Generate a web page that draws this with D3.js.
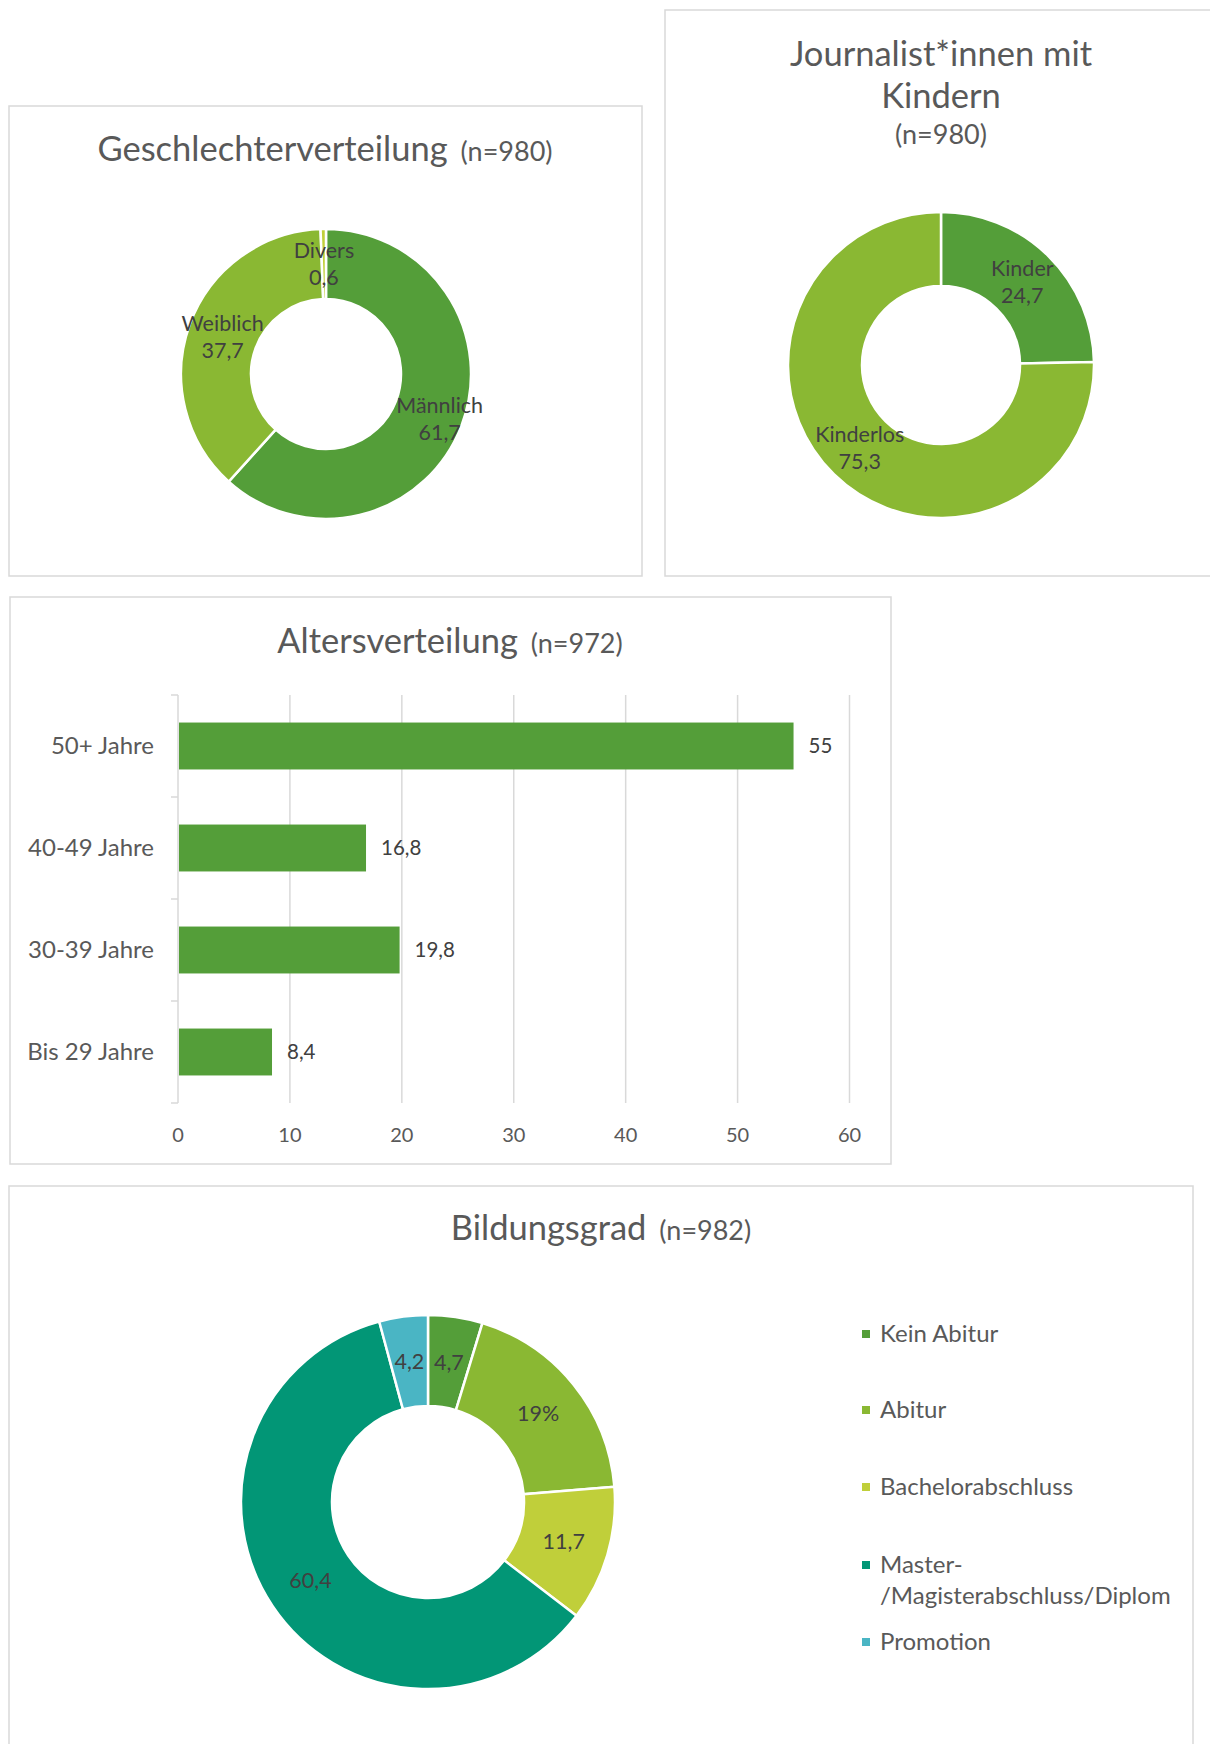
<!DOCTYPE html>
<html>
<head>
<meta charset="utf-8">
<script src="https://cdn.jsdelivr.net/npm/d3@7"></script>
<style>
  body { margin: 0; background: #fff; }
  svg text { font-family: Lato, "Open Sans", sans-serif; }
</style>
</head>
<body>
<svg id="chart" width="1210" height="1744"></svg>
<script>
// Chart data
const genderLabels = ["Männlich", "Weiblich", "Divers"];
const genderValues = [61.7, 37.7, 0.6];

const childLabels = ["Kinder", "Kinderlos"];
const childValues = [24.7, 75.3];

const ageLabels = ["50+ Jahre", "40-49 Jahre", "30-39 Jahre", "Bis 29 Jahre"];
const ageValues = [55, 16.8, 19.8, 8.4];
const ageTicks = [0, 10, 20, 30, 40, 50, 60];

const eduLabels = ["Kein Abitur", "Abitur", "Bachelorabschluss", "Master-/Magisterabschluss/Diplom", "Promotion"];
const eduValues = [4.7, 19, 11.7, 60.4, 4.2];
const eduValueText = ["4,7", "19%", "11,7", "60,4", "4,2"];

// Office "Green" theme colours
const palette = ["#549E39", "#8AB833", "#C0CF3A", "#029676", "#4AB5C4"];
const titleColor = "#595959";
const labelColor = "#404040";
const frameColor = "#d9d9d9";

const fmt = v => String(v).replace(".", ",");

const svg = d3.select("#chart");
svg.append("rect").attr("width", 1210).attr("height", 1744).attr("fill", "#fff");

function frame(x, y, w, h) {
    svg.append("rect")
        .attr("x", x).attr("y", y).attr("width", w).attr("height", h)
        .attr("fill", "none").attr("stroke", frameColor).attr("stroke-width", 1.5);
}

function title(x, y, main, sub) {
    const t = svg.append("text")
        .attr("x", x).attr("y", y)
        .attr("text-anchor", "middle")
        .attr("fill", titleColor)
        .attr("font-size", 34.5);
    t.append("tspan").text(main);
    if (sub) t.append("tspan").attr("dx", 6).attr("font-size", 27).text(" " + sub);
    return t;
}

// small nudges so labels sit where Excel's "best fit" puts them
function donut(cx, cy, outerR, innerR, values, colors, labelLines, nudge) {
    const g = svg.append("g").attr("transform", `translate(${cx},${cy})`);
    const pie = d3.pie().sort(null).value(d => d)(values);
    const arc = d3.arc().innerRadius(innerR).outerRadius(outerR);

    g.selectAll("path.slice")
        .data(pie)
        .join("path")
        .attr("class", "slice")
        .attr("d", arc)
        .attr("fill", (d, i) => colors[i])
        .attr("stroke", "#fff")
        .attr("stroke-width", 2.5);

    const lbl = g.selectAll("text.dl")
        .data(pie)
        .join("text")
        .attr("class", "dl")
        .attr("transform", (d, i) => {
            const c = arc.centroid(d);
            const n = (nudge && nudge[i]) || [0, 0];
            return `translate(${c[0] + n[0]},${c[1] + n[1]})`;
        })
        .attr("text-anchor", "middle")
        .attr("fill", labelColor)
        .attr("font-size", 21.5);

    lbl.each(function(d, i) {
        const lines = labelLines(d, i);
        const sel = d3.select(this);
        const lh = 27;
        lines.forEach((line, k) => {
            sel.append("tspan")
                .attr("x", 0)
                .attr("y", (k - (lines.length - 1) / 2) * lh)
                .attr("dy", "0.35em")
                .text(line);
        });
    });
}

// --- Geschlechterverteilung
frame(9, 106, 633, 470);
title(325, 161, "Geschlechterverteilung", "(n=980)");
donut(326, 374, 145, 75, genderValues, palette,
    (d, i) => [genderLabels[i], fmt(genderValues[i])], [[11, 5], [0, 1], [0, 0]]);

// --- Journalist*innen mit Kindern
frame(665, 10, 560, 566);
svg.append("text").attr("x", 941).attr("y", 66).attr("text-anchor", "middle")
    .attr("fill", titleColor).attr("font-size", 34.5).text("Journalist*innen mit");
svg.append("text").attr("x", 941).attr("y", 108).attr("text-anchor", "middle")
    .attr("fill", titleColor).attr("font-size", 34.5).text("Kindern");
svg.append("text").attr("x", 941).attr("y", 144).attr("text-anchor", "middle")
    .attr("fill", titleColor).attr("font-size", 27).text("(n=980)");
donut(941, 365, 153, 79, childValues, palette,
    (d, i) => [childLabels[i], fmt(childValues[i])]);

// --- Altersverteilung
frame(10, 597, 881, 567);
title(450, 653, "Altersverteilung", "(n=972)");

const x = d3.scaleLinear().domain([0, 60]).range([178, 849.5]);
const y = d3.scaleBand().domain(ageLabels).range([695, 1103])
    .paddingInner(0.54).paddingOuter(0.27);
const step = y.step();

const bar = svg.append("g");
bar.selectAll("line.grid")
    .data(ageTicks.slice(1))
    .join("line")
    .attr("x1", d => x(d)).attr("x2", d => x(d))
    .attr("y1", 695).attr("y2", 1103)
    .attr("stroke", frameColor).attr("stroke-width", 1.5);

// category axis with tick marks between bands
bar.append("line")
    .attr("x1", x(0)).attr("x2", x(0)).attr("y1", 695).attr("y2", 1103)
    .attr("stroke", frameColor).attr("stroke-width", 1.5);
bar.selectAll("line.ytick")
    .data(d3.range(ageLabels.length + 1))
    .join("line")
    .attr("x1", x(0) - 7).attr("x2", x(0))
    .attr("y1", i => 695 + i * step).attr("y2", i => 695 + i * step)
    .attr("stroke", frameColor).attr("stroke-width", 1.5);

bar.selectAll("rect.bar")
    .data(ageValues)
    .join("rect")
    .attr("x", x(0) + 1)
    .attr("y", (d, i) => y(ageLabels[i]))
    .attr("width", d => x(d) - x(0) - 1)
    .attr("height", y.bandwidth())
    .attr("fill", palette[0]);

bar.selectAll("text.val")
    .data(ageValues)
    .join("text")
    .attr("x", d => x(d) + 15)
    .attr("y", (d, i) => y(ageLabels[i]) + y.bandwidth() / 2)
    .attr("dy", "0.35em")
    .attr("fill", labelColor)
    .attr("font-size", 20.5)
    .text(d => fmt(d));

bar.selectAll("text.cat")
    .data(ageLabels)
    .join("text")
    .attr("x", 154)
    .attr("y", d => y(d) + y.bandwidth() / 2)
    .attr("dy", "0.35em")
    .attr("text-anchor", "end")
    .attr("fill", titleColor)
    .attr("font-size", 24)
    .text(d => d);

bar.selectAll("text.tick")
    .data(ageTicks)
    .join("text")
    .attr("x", d => x(d))
    .attr("y", 1135)
    .attr("dy", "0.35em")
    .attr("text-anchor", "middle")
    .attr("fill", titleColor)
    .attr("font-size", 20)
    .text(d => d);

// --- Bildungsgrad
frame(9, 1186, 1184, 600);
title(601, 1240, "Bildungsgrad", "(n=982)");
donut(428, 1502, 187, 96, eduValues, palette, (d, i) => [eduValueText[i]]);

const legendRows = [[1334], [1410], [1487], [1565, 1596], [1642]];
const legendText = [["Kein Abitur"], ["Abitur"], ["Bachelorabschluss"],
    ["Master-", "/Magisterabschluss/Diplom"], ["Promotion"]];
const legend = svg.append("g");
eduLabels.forEach((name, i) => {
    legend.append("rect")
        .attr("x", 862).attr("y", legendRows[i][0] - 4)
        .attr("width", 8).attr("height", 8)
        .attr("fill", palette[i]);
    legendText[i].forEach((line, k) => {
        legend.append("text")
            .attr("x", 880).attr("y", legendRows[i][k])
            .attr("dy", "0.35em")
            .attr("fill", titleColor)
            .attr("font-size", 24)
            .text(line);
    });
});
</script>
</body>
</html>
